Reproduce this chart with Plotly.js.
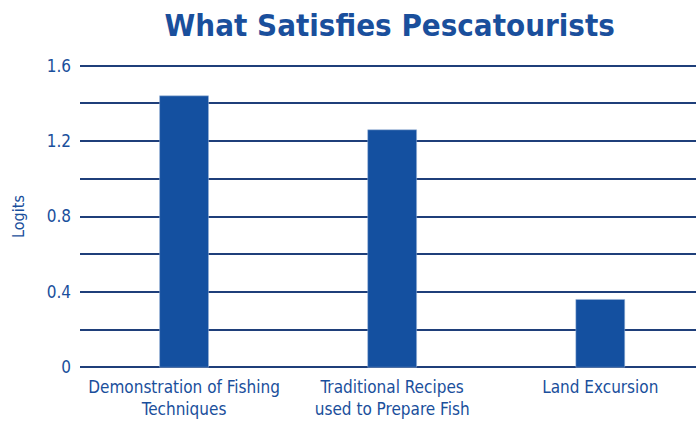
<!DOCTYPE html>
<html><head><meta charset="utf-8">
<script src="https://cdn.plot.ly/plotly-3.0.1.min.js"></script>
<style>html,body{margin:0;padding:0;background:#fff;}#chart{width:696px;height:427px;}</style>
</head><body><div id="chart"></div>
<script>
const categories = ["Demonstration of Fishing<br>Techniques", "Traditional Recipes<br>used to Prepare Fish", "Land Excursion"];
const logits = [1.44, 1.26, 0.36];
const yTicks = [0, 0.2, 0.4, 0.6, 0.8, 1.0, 1.2, 1.4, 1.6];
const yTickLabels = ["0", "", "0.4", "", "0.8", "", "1.2", "", "1.6"];

const fontFam = "'DejaVu Sans Condensed', 'Liberation Sans Narrow', sans-serif";
const blue = "#1a4f9c";

Plotly.newPlot("chart", [{
  type: "bar",
  x: [0, 1, 2],
  y: logits,
  width: 0.235,
  marker: {color: "#1450a0", line: {color: "#9fb6d8", width: 0.5}},
  hoverinfo: "none"
}], {
  width: 696, height: 427,
  margin: {l: 80, r: 0, t: 61, b: 55},
  paper_bgcolor: "#fff", plot_bgcolor: "#fff",
  showlegend: false,
  title: {text: "What Satisfies Pescatourists", x: 0.56, xanchor: "center", y: 0.94, yanchor: "middle",
          font: {family: fontFam, size: 31, color: blue, weight: "bold"}},
  xaxis: {
    range: [-0.5, 2.46],
    tickmode: "array", tickvals: [0, 1, 2], ticktext: categories,
    showgrid: false, zeroline: false, showline: false, ticks: "", ticklabelstandoff: 3,
    tickfont: {family: fontFam, size: 17, color: blue},
    fixedrange: true
  },
  yaxis: {
    range: [-0.025, 1.625],
    tickmode: "array", tickvals: yTicks, ticktext: yTickLabels,
    showgrid: true, gridcolor: "#1f3f7a", gridwidth: 2,
    zeroline: false, showline: false, ticks: "", ticklabelstandoff: 8,
    tickfont: {family: fontFam, size: 17, color: blue},
    title: {text: "Logits", font: {family: fontFam, size: 16, color: blue}, standoff: 18},
    fixedrange: true
  }
}, {displayModeBar: false, staticPlot: true});
</script></body></html>
